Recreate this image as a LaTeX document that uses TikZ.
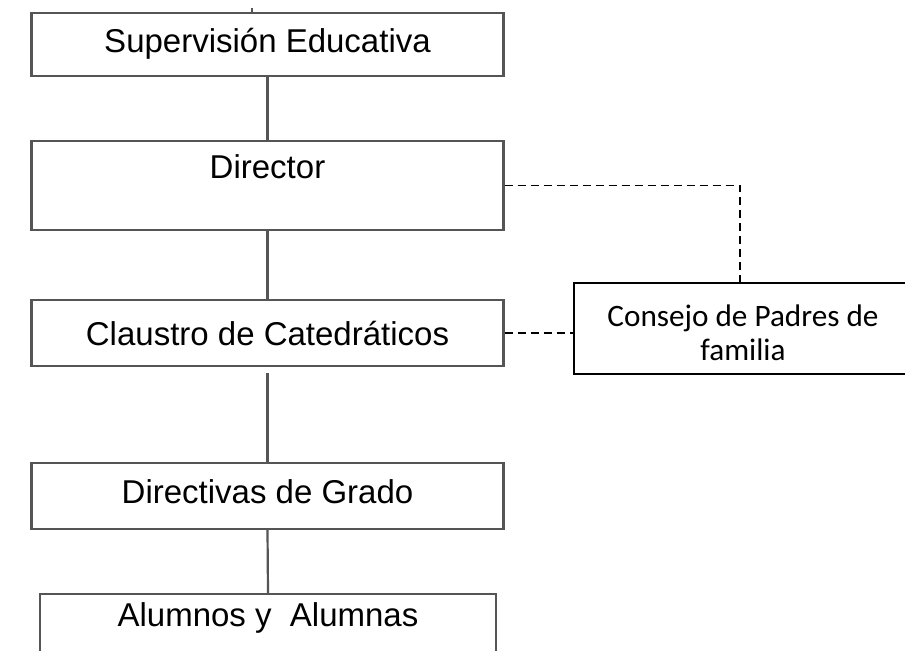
\documentclass[tikz,border=0pt]{standalone}
\usepackage{fontspec}
\setmainfont{Liberation Sans}
\newfontfamily\calib{Carlito}
\definecolor{boxgray}{RGB}{85,85,85}
\begin{document}
\begin{tikzpicture}[x=0.5pt,y=-0.5pt,
  orgbox/.style={draw=boxgray, line width=1.1pt, rectangle, inner sep=0pt, minimum width=236pt},
  lbl/.style={inner sep=0pt, font=\fontsize{16.5pt}{19pt}\selectfont, text=black},
  conn/.style={draw=boxgray, line width=1.1pt},
  dsh/.style={draw=black, line width=0.85pt, dash pattern=on 4pt off 2.5pt},
  consbox/.style={draw=black, line width=0.75pt, rectangle, inner sep=0pt, minimum width=169pt, minimum height=45.5pt},
  conslbl/.style={inner sep=0pt, align=center, font=\calib\fontsize{15.6pt}{17pt}\selectfont, text=black}]
\clip (0,0) rectangle (905,650);
\fill[white] (0,0) rectangle (905,650);
% boxes
\node[orgbox, minimum height=31.5pt] (sup) at (267.5,44.5) {};
\node[lbl] (supt) at (267.5,44) {Supervisión Educativa};
\node[orgbox, minimum height=44.5pt] (dir) at (267.5,185.5) {};
\node[lbl] (dirt) at (267.5,167) {Director};
\node[orgbox, minimum height=33pt] (cla) at (267.5,333) {};
\node[lbl] (clat) at (267.5,333) {Claustro de Catedráticos};
\node[orgbox, minimum height=33pt] (dirg) at (267.5,496) {};
\node[lbl] (dirgt) at (267.5,492) {Directivas de Grado};
\node[orgbox, minimum width=228pt, minimum height=34pt] (alu) at (268,628) {};
\node[lbl] (alut) at (268,618) {Alumnos y \ Alumnas};
\node[consbox] (cons) at (743,328.5) {};
\node[conslbl] (const) at (743,333) {Consejo de Padres de\\familia};
% small tick at top
\coordinate (toptick) at (252,8);
\draw[conn, line width=0.8pt] (toptick) -- (toptick |- sup.north);
% connectors
\draw[conn] (sup.south) -- (dir.north);
\draw[conn] (dir.south) -- (cla.north);
\draw[conn] ([yshift=-3pt]cla.south) -- (dirg.north);
\draw[conn] (dirg.south) -- (alu.north);
% dashed links
\draw[dsh] (dir.east) -| ([xshift=-1.5pt]cons.north);
\draw[dsh] (cla.east) -- (cons.west |- cla.east);
\end{tikzpicture}
\end{document}
